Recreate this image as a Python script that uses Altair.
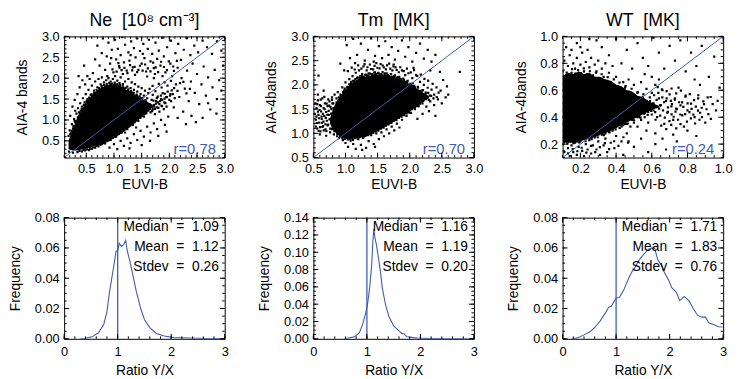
import altair as alt
import pandas as pd

BLUE = "#3f5cb0"
FONT = "Liberation Sans"
NB = "\u00a0"

# ---------------- panel titles / texts ----------------
titles = ["Ne" + NB * 2 + "[10\u2078" + NB + "cm\u207b\u00b3]", "Tm" + NB * 2 + "[MK]", "WT" + NB * 2 + "[MK]"]
ytitles_top = ["AIA-4 bands", "AIA-4bands", "AIA-4bands"]
r_values = ["r=0.78", "r=0.70", "r=0.24"]
medians = ["1.09", "1.16", "1.71"]
means = ["1.12", "1.19", "1.83"]
stdevs = ["0.26", "0.20", "0.76"]

# ---------------- scatter data ----------------
# dense (solid black) part of each cloud: x, lower edge, upper edge
ne_core_x = [0.18, 0.22, 0.26, 0.30, 0.34, 0.38, 0.42, 0.46, 0.50, 0.54, 0.58, 0.62, 0.66, 0.70, 0.74, 0.78, 0.82,
             0.86, 0.90, 0.94, 0.98, 1.02, 1.06, 1.10, 1.14, 1.18, 1.22, 1.26, 1.30, 1.34, 1.38, 1.42, 1.46, 1.50,
             1.54, 1.58, 1.62, 1.66, 1.70]
ne_core_lo = [0.30, 0.28, 0.27, 0.27, 0.27, 0.28, 0.29, 0.30, 0.31, 0.33, 0.34, 0.36, 0.38, 0.40, 0.42, 0.45, 0.47,
              0.50, 0.53, 0.56, 0.59, 0.61, 0.65, 0.68, 0.71, 0.75, 0.79, 0.82, 0.86, 0.90, 0.94, 0.99, 1.03, 1.08,
              1.12, 1.16, 1.22, 1.27, 1.32]
ne_core_hi = [0.50, 0.66, 0.80, 0.92, 1.06, 1.16, 1.25, 1.36, 1.42, 1.52, 1.56, 1.62, 1.64, 1.71, 1.74, 1.80, 1.79,
              1.85, 1.82, 1.88, 1.84, 1.89, 1.83, 1.84, 1.78, 1.79, 1.72, 1.74, 1.66, 1.68, 1.60, 1.62, 1.54, 1.55,
              1.47, 1.48, 1.42, 1.40, 1.36]

ne_pts = [
    (0.62,2.12),(0.66,2.45),(0.70,2.78),(0.74,2.30),(0.78,2.60),(0.80,2.95),(0.84,2.20),(0.87,2.52),(0.90,2.85),(0.93,2.35),
    (0.96,2.68),(0.99,2.14),(1.02,2.92),(1.04,2.45),(1.07,2.70),(1.10,2.25),(1.12,2.55),(1.15,2.98),(1.18,2.38),(1.20,2.80),
    (1.23,2.18),(1.26,2.62),(1.28,2.42),(1.31,2.88),(1.34,2.26),(1.36,2.72),(1.39,2.50),(1.42,2.95),(1.44,2.20),(1.47,2.65),
    (1.50,2.35),(1.53,2.82),(1.55,2.48),(1.58,2.16),(1.61,2.70),(1.63,2.92),(1.66,2.40),(1.69,2.58),(1.72,2.24),(1.75,2.85),
    (1.78,2.46),(1.81,2.66),(1.84,2.30),(1.87,2.97),(1.90,2.52),(1.93,2.14),(1.96,2.74),(1.99,2.40),(2.03,2.90),(2.07,2.28),
    (2.11,2.60),(2.16,2.82),(2.21,2.44),(2.26,2.68),(2.32,2.96),(2.38,2.55),(2.45,2.78),(2.52,2.62),(2.60,2.90),(2.68,2.74),
    (2.77,2.58),(2.86,2.88),(2.94,2.66),(1.16,2.10),(1.38,2.08),(1.60,2.04),(0.88,2.05),(1.08,2.36),(1.30,2.55),(1.52,2.58),
    (1.74,2.10),(0.95,2.48),
    (2.02,1.62),(2.05,2.05),(2.08,1.30),(2.12,1.85),(2.15,2.25),(2.18,1.55),(2.22,2.00),(2.25,1.20),(2.28,1.75),(2.32,2.18),
    (2.35,1.45),(2.39,1.92),(2.42,2.35),(2.46,1.65),(2.50,2.10),(2.54,1.38),(2.58,1.85),(2.62,2.28),(2.66,1.58),(2.70,2.02),
    (2.74,1.25),(2.78,1.78),(2.82,2.20),(2.86,1.50),(2.90,1.95),(2.94,1.70),(2.97,2.30),(2.40,1.10),(2.60,1.05),(2.85,1.15),
    (2.15,1.05),(2.30,0.90),(2.48,0.95),(2.70,1.40),
    (0.92,0.34),(1.00,0.42),(1.06,0.30),(1.12,0.50),(1.18,0.38),(1.24,0.56),(1.30,0.45),(1.36,0.66),(1.42,0.52),(1.48,0.74),
    (1.54,0.60),(1.60,0.84),(1.66,0.70),(1.72,0.92),(1.78,0.78),(1.85,1.00),(1.92,0.88),(1.98,1.08),(1.28,0.32),(1.50,0.40),
    (1.65,0.50),(1.80,0.62),(1.95,0.72),(1.20,0.70),(1.40,0.82),
    (0.18,0.62),(0.20,0.75),(0.22,0.68),(0.24,0.90),(0.26,0.80),(0.28,1.02),(0.30,0.95),(0.32,1.15),(0.33,0.98),(0.35,1.28),
    (0.37,1.10),(0.39,1.40),(0.40,1.22),(0.42,1.32),(0.44,1.52),(0.45,1.25),(0.47,1.42),(0.49,1.62),(0.50,1.38),(0.52,1.50),
    (0.54,1.72),(0.56,1.45),(0.58,1.60),(0.60,1.82),(0.62,1.55),(0.64,1.70),(0.66,1.92),(0.68,1.65),(0.70,1.78),(0.72,1.98),
    (0.74,1.70),(0.76,1.85),(0.78,2.02),(0.80,1.74),(0.82,1.90),(0.84,1.78),(0.86,1.95),(0.88,1.80),(0.90,2.00),(0.92,1.82),
    (0.94,1.92),(0.96,1.78),(0.98,1.98),(1.00,1.84),(1.02,2.05),(1.04,1.80),(1.06,1.94),(1.08,1.76),(1.10,1.88),(1.12,2.02),
    (1.14,1.74),(1.16,1.86),(1.18,1.70),(1.20,1.92),(1.22,1.66),(1.24,1.80),(1.26,1.98),(1.28,1.62),(1.30,1.76),(1.32,1.90),
    (1.34,1.58),(1.36,1.72),(1.38,1.86),(1.40,1.54),(1.42,1.68),(1.44,1.80),(1.46,1.50),(1.48,1.62),(1.50,1.76),(1.52,1.45),
    (1.54,1.58),(1.56,1.70),(1.58,1.40),(1.60,1.52),(1.62,1.64),(1.65,1.36),(1.68,1.48),(1.70,1.60),(1.73,1.32),(1.76,1.45),
    (1.79,1.56),(1.82,1.38),(1.85,1.50),(1.88,1.64),(1.91,1.42),(1.94,1.55),(1.97,1.68),(2.00,1.48),
    (0.19,0.24),(0.26,0.22),(0.34,0.23),(0.42,0.25),(0.48,0.27),(0.55,0.28),(0.60,0.31),(0.66,0.34),(0.72,0.37),(0.78,0.42),
    (0.84,0.44),(0.88,0.50),(0.94,0.52),(0.98,0.58),(1.04,0.60),(1.08,0.66),(1.14,0.70),(1.18,0.76),(1.24,0.78),(1.28,0.86),
    (1.34,0.88),(1.38,0.96),(1.44,0.98),(1.48,1.06),(1.54,1.08),(1.58,1.16),(1.62,1.22),(1.66,1.18),(1.70,1.26),(1.74,1.14),
    (1.78,1.30),(1.82,1.20),(1.86,1.34),(1.90,1.26),(1.95,1.32),(1.56,1.26),(1.60,1.34),(1.64,1.28),
    (0.21,1.10),(0.25,1.32),(0.29,1.48),(0.34,1.62),(0.38,1.78),(0.43,1.95),(0.48,1.85),(0.36,2.05),(0.46,2.30),(0.30,1.22),
    (0.52,2.05),(0.56,1.98),
    (0.213,0.663),(0.237,0.741),(0.268,0.857),(0.291,0.973),(0.318,0.912),(0.347,1.061),(0.366,1.183),(0.389,1.147),
    (0.418,1.266),(0.436,1.198),(0.457,1.361),(0.483,1.297),(0.507,1.449),(0.528,1.392),(0.553,1.537),(0.571,1.503),
    (0.596,1.611),(0.617,1.556),(0.643,1.649),(0.659,1.593),(0.687,1.712),(0.708,1.668),(0.731,1.763),(0.753,1.721),
    (0.777,1.809),(0.796,1.748),(0.821,1.832),(0.847,1.774),(0.869,1.861),(0.893,1.803),(0.917,1.889),(0.941,1.817),
    (0.963,1.873),(0.987,1.809),(1.013,1.896),(1.037,1.829),(1.061,1.857),(1.084,1.781),(1.109,1.833),(1.133,1.757),
    (1.158,1.803),(1.181,1.721),(1.207,1.769),(1.232,1.683),(1.257,1.733),(1.283,1.647),(1.308,1.689),(1.334,1.603),
    (1.359,1.651),(1.384,1.561),(1.409,1.607),(1.437,1.517),(1.463,1.563),(1.488,1.471),(1.512,1.521),(1.541,1.427),
    (1.567,1.473),(1.593,1.383),
    (0.377,0.262),(0.453,0.281),(0.517,0.297),(0.569,0.322),(0.627,0.341),(0.681,0.377),(0.709,0.393),(0.752,0.411),
    (0.806,0.447),(0.833,0.469),(0.871,0.493),(0.912,0.517),(0.947,0.561),(0.979,0.572),(1.021,0.597),(1.053,0.642),
    (1.092,0.668),(1.127,0.693),(1.161,0.741),(1.197,0.772),(1.226,0.803),(1.263,0.831),(1.297,0.871),(1.331,0.903),
    (1.367,0.942),(1.403,0.991),(1.431,1.017),(1.472,1.047),(1.509,1.097),(1.547,1.139),(1.583,1.171),(1.617,1.243),
    (1.652,1.267),(1.687,1.311),(1.721,1.357),(1.756,1.389),(1.793,1.419),(1.833,1.451),(1.871,1.483),(1.913,1.513),
    (1.957,1.547),(2.012,1.583),(2.063,1.617),(1.689,1.213),(1.742,1.263),(1.803,1.287),(1.867,1.331),(1.928,1.401),
    (2.031,1.451),(2.097,1.521),(1.577,1.297),(1.641,1.349),(1.713,1.463),(1.773,1.523),(1.847,1.581),(1.919,1.627),
    (2.043,1.709),
    (0.973,2.213),(1.047,2.157),(1.093,2.287),(1.137,2.193),(1.189,2.247),(1.243,2.121),(1.291,2.313),(1.329,2.187),
    (1.373,2.271),(1.419,2.143),(1.469,2.297),(1.517,2.183),(1.563,2.327),(1.611,2.233),(1.659,2.163),(1.707,2.371),
    (1.753,2.257),(1.797,2.143),(1.851,2.393),(1.903,2.267),(1.957,2.191),(2.017,2.347),(2.083,2.173),(2.137,2.413),
    (1.643,1.743),(1.697,1.817),(1.749,1.691),(1.809,1.863),(1.861,1.777),(1.913,1.901),(1.967,1.823),(2.029,1.937),
    (2.087,1.761),(2.147,1.697),(2.193,1.881),(2.253,1.913),(2.309,1.637),(2.371,1.743),(1.721,2.003),(1.877,2.051),
]

tm_core_x = [0.76, 0.80, 0.84, 0.88, 0.92, 0.96, 1.00, 1.05, 1.10, 1.15, 1.20, 1.25, 1.30, 1.35, 1.40, 1.45, 1.50,
             1.55, 1.60, 1.65, 1.70, 1.75, 1.80, 1.85, 1.90, 1.95, 2.00, 2.05, 2.10, 2.15, 2.20, 2.25, 2.30]
tm_core_lo = [1.20, 1.08, 1.02, 0.97, 0.93, 0.90, 0.89, 0.88, 0.88, 0.90, 0.90, 0.92, 0.92, 0.96, 0.98, 1.02, 1.05,
              1.09, 1.12, 1.17, 1.19, 1.24, 1.28, 1.33, 1.37, 1.41, 1.44, 1.50, 1.54, 1.59, 1.64, 1.70, 1.72]
tm_core_hi = [1.30, 1.48, 1.60, 1.70, 1.77, 1.84, 1.90, 1.98, 2.04, 2.09, 2.12, 2.17, 2.16, 2.20, 2.19, 2.23, 2.21,
              2.23, 2.20, 2.22, 2.18, 2.19, 2.13, 2.14, 2.08, 2.07, 2.01, 2.00, 1.93, 1.90, 1.85, 1.81, 1.76]

tm_pts = [
    (0.54,1.28),(0.55,1.52),(0.56,1.10),(0.57,1.68),(0.58,1.38),(0.59,1.22),(0.60,1.58),(0.61,1.04),(0.62,1.45),(0.63,1.30),
    (0.64,1.72),(0.65,1.15),(0.66,1.52),(0.67,1.36),(0.68,1.62),(0.69,1.08),(0.70,1.44),(0.71,1.26),(0.72,1.56),(0.73,1.18),
    (0.74,1.38),(0.75,1.66),(0.76,1.02),(0.77,1.30),(0.78,1.50),(0.79,1.74),(0.80,1.10),(0.81,1.62),(0.82,0.98),(0.83,1.80),
    (0.84,1.35),(0.86,1.72),(0.87,0.94),(0.88,1.85),(0.89,1.48),(0.90,0.90),(0.57,1.80),(0.60,0.98),(0.66,1.88),(0.70,0.95),
    (0.52,1.40),(0.53,1.62),
    (0.92,1.80),(0.95,1.95),(0.98,1.88),(1.00,2.05),(1.03,1.96),(1.06,2.12),(1.08,2.02),(1.11,2.18),(1.13,2.08),(1.16,2.25),
    (1.18,2.14),(1.21,2.30),(1.23,2.18),(1.26,2.22),(1.28,2.38),(1.31,2.20),(1.33,2.30),(1.36,2.24),(1.38,2.42),(1.41,2.22),
    (1.43,2.32),(1.46,2.26),(1.48,2.45),(1.51,2.24),(1.53,2.34),(1.56,2.22),(1.58,2.40),(1.61,2.24),(1.63,2.32),(1.66,2.20),
    (1.68,2.44),(1.71,2.22),(1.73,2.30),(1.76,2.18),(1.78,2.36),(1.81,2.16),(1.83,2.26),(1.86,2.12),(1.88,2.30),(1.91,2.10),
    (1.93,2.20),(1.96,2.06),(1.98,2.24),(2.01,2.02),(2.04,2.14),(2.07,1.98),(2.10,2.20),(2.13,1.94),(2.16,2.06),(2.19,1.88),
    (2.22,2.00),(2.25,1.84),(2.28,1.94),(2.31,1.78),(2.34,1.90),(2.37,1.72),
    (0.58,2.19),(0.92,2.44),(1.02,2.82),(1.07,2.55),(1.12,2.95),(1.18,2.62),(1.24,2.85),(1.30,2.50),(1.35,2.72),(1.40,2.96),
    (1.46,2.60),(1.52,2.80),(1.57,2.55),(1.62,2.90),(1.67,2.62),(1.72,2.78),(1.77,2.52),(1.82,2.70),(1.88,2.92),(1.93,2.58),
    (1.98,2.78),(2.04,2.48),(2.10,2.66),(2.16,2.85),(2.22,2.54),(2.28,2.72),(2.34,2.48),(2.40,2.62),(2.47,2.27),(2.58,1.97),
    (2.45,1.84),(2.78,2.27),(2.60,1.80),(2.52,2.10),(1.15,2.45),(1.44,2.48),(1.75,2.42),(2.06,2.35),(2.32,2.30),(0.98,2.30),
    (1.95,1.36),(2.02,1.42),(2.08,1.50),(2.14,1.56),(2.20,1.62),(2.26,1.55),(2.32,1.66),(2.38,1.58),(2.44,1.70),(2.50,1.62),
    (2.56,1.74),(2.20,1.40),(2.30,1.46),(2.40,1.36),(1.88,1.28),(2.12,1.30),
    (0.96,0.86),(1.00,0.80),(1.04,0.72),(1.08,0.85),(1.12,0.78),(1.16,0.68),(1.20,0.88),(1.24,0.76),(1.28,0.92),(1.32,0.70),
    (1.36,0.84),(1.40,0.96),(1.44,0.78),(1.48,1.00),(1.52,0.88),(1.56,1.02),(1.60,0.94),(1.64,1.08),(1.68,1.00),(1.72,1.14),
    (1.76,1.06),(1.80,1.20),(1.84,1.12),(1.26,0.66),(1.46,0.72),(1.10,0.92),(1.22,0.96),(1.34,1.00),
    (0.813,1.521),(0.861,1.633),(0.897,1.741),(0.934,1.787),(0.961,1.853),(0.989,1.921),(1.027,1.947),(1.058,2.013),
    (1.089,2.061),(1.121,2.083),(1.153,2.121),(1.187,2.157),(1.219,2.139),(1.251,2.187),(1.283,2.171),(1.317,2.213),
    (1.349,2.197),(1.381,2.233),(1.413,2.207),(1.447,2.251),(1.479,2.223),(1.511,2.247),(1.543,2.219),(1.577,2.261),
    (1.609,2.213),(1.641,2.239),(1.673,2.187),(1.707,2.221),(1.739,2.163),(1.771,2.197),(1.803,2.139),(1.837,2.163),
    (1.869,2.101),(1.901,2.127),(1.933,2.063),(1.967,2.081),(2.013,2.017),(2.047,2.033),(2.083,1.947),(2.127,1.961),
    (2.163,1.873),(2.207,1.891),(2.247,1.817),(2.289,1.833),(2.333,1.771),(2.381,1.797),(2.421,1.749),
    (0.793,1.087),(0.827,1.043),(0.873,0.987),(0.913,0.933),(0.951,0.901),(0.993,0.887),(1.037,0.873),(1.073,0.891),
    (1.117,0.867),(1.153,0.903),(1.193,0.887),(1.231,0.921),(1.273,0.907),(1.311,0.947),(1.353,0.963),(1.391,0.989),
    (1.433,1.007),(1.471,1.041),(1.513,1.053),(1.553,1.097),(1.593,1.117),(1.633,1.161),(1.671,1.183),(1.713,1.213),
    (1.751,1.257),(1.793,1.271),(1.833,1.317),(1.873,1.343),(1.913,1.377),(1.953,1.411),(1.993,1.429),(2.037,1.497),
    (2.077,1.531),(2.121,1.563),(2.163,1.613),(2.211,1.667),(2.253,1.703),(2.297,1.689),
    (0.553,1.213),(0.571,1.447),(0.587,1.311),(0.603,1.127),(0.617,1.563),(0.633,1.217),(0.647,1.401),(0.661,1.063),
    (0.677,1.497),(0.693,1.317),(0.707,1.611),(0.721,1.163),(0.737,1.463),(0.751,1.287),(0.767,1.543),(0.783,1.213),
    (0.797,1.617),(0.537,1.137),(0.561,1.603),(0.581,1.053),(0.613,1.697),(0.641,1.131),(0.671,1.753),(0.703,1.047),
    (0.733,1.701),(0.763,1.097),(0.791,1.689),(0.547,1.343),(0.597,1.481),(0.627,1.343),(0.657,1.241),(0.687,1.187),
    (0.717,1.383),(0.747,1.573),(0.777,1.407),
    (1.037,2.283),(1.097,2.357),(1.143,2.317),(1.197,2.403),(1.247,2.337),(1.297,2.427),(1.343,2.363),(1.397,2.327),
    (1.453,2.391),(1.497,2.353),(1.547,2.427),(1.597,2.361),(1.647,2.403),(1.697,2.337),(1.747,2.383),(1.797,2.307),
    (1.853,2.363),(1.907,2.283),(1.957,2.337),(2.017,2.257),(2.067,2.303),(2.117,2.183),(2.173,2.213),(2.229,2.123),
    (2.287,2.087),(2.357,2.021),(2.417,1.947),(2.481,1.883),
]

wt_core_x = [0.10, 0.13, 0.16, 0.19, 0.22, 0.25, 0.28, 0.31, 0.34, 0.37, 0.40, 0.43, 0.46, 0.49, 0.52, 0.55, 0.58,
             0.61, 0.64]
wt_core_lo = [0.22, 0.21, 0.21, 0.22, 0.23, 0.24, 0.25, 0.27, 0.28, 0.30, 0.32, 0.34, 0.36, 0.38, 0.40, 0.42, 0.44,
              0.46, 0.47]
wt_core_hi = [0.70, 0.73, 0.72, 0.74, 0.72, 0.73, 0.70, 0.70, 0.68, 0.67, 0.64, 0.63, 0.60, 0.59, 0.56, 0.55, 0.52,
              0.50, 0.485]

wt_pts = [
    (0.10,0.74),(0.11,0.82),(0.12,0.71),(0.13,0.78),(0.14,0.86),(0.15,0.73),(0.16,0.80),(0.17,0.76),(0.18,0.84),(0.19,0.72),
    (0.20,0.79),(0.21,0.88),(0.22,0.74),(0.23,0.81),(0.24,0.72),(0.25,0.77),(0.26,0.84),(0.27,0.71),(0.28,0.79),(0.29,0.74),
    (0.30,0.82),(0.31,0.69),(0.32,0.76),(0.33,0.70),(0.34,0.80),(0.35,0.67),(0.36,0.73),(0.37,0.66),(0.38,0.78),(0.39,0.64),
    (0.40,0.70),(0.12,0.92),(0.18,0.95),(0.24,0.90),(0.29,0.97),(0.15,0.90),
    (0.10,0.20),(0.11,0.14),(0.12,0.22),(0.13,0.17),(0.14,0.11),(0.15,0.19),(0.16,0.14),(0.17,0.21),(0.18,0.12),(0.19,0.18),
    (0.20,0.22),(0.21,0.15),(0.22,0.11),(0.23,0.20),(0.24,0.16),(0.25,0.23),(0.26,0.13),(0.27,0.19),(0.28,0.25),(0.29,0.16),
    (0.30,0.22),(0.31,0.12),(0.32,0.27),(0.33,0.19),(0.34,0.24),(0.35,0.14),(0.36,0.29),(0.37,0.21),(0.38,0.31),(0.39,0.17),
    (0.40,0.26),(0.42,0.32),(0.43,0.22),(0.45,0.35),(0.46,0.28),(0.48,0.33),
    (0.45,0.62),(0.46,0.52),(0.47,0.68),(0.48,0.58),(0.49,0.38),(0.50,0.64),(0.51,0.47),(0.52,0.58),(0.53,0.40),(0.54,0.66),
    (0.55,0.55),(0.56,0.43),(0.57,0.61),(0.58,0.36),(0.59,0.52),(0.60,0.58),(0.61,0.45),(0.62,0.64),(0.63,0.40),(0.64,0.54),
    (0.65,0.49),(0.66,0.60),(0.67,0.35),(0.68,0.52),(0.69,0.44),(0.70,0.57),(0.71,0.48),(0.72,0.38),(0.73,0.54),(0.74,0.46),
    (0.75,0.62),(0.76,0.42),(0.77,0.51),(0.78,0.33),(0.79,0.56),(0.80,0.45),(0.82,0.50),(0.84,0.40),(0.86,0.54),(0.88,0.47),
    (0.90,0.36),(0.52,0.33),(0.57,0.30),(0.62,0.28),(0.66,0.24),(0.72,0.27),(0.60,0.70),(0.56,0.72),(0.64,0.68),
    (0.32,0.92),(0.36,0.86),(0.40,0.98),(0.43,0.80),(0.46,0.90),(0.49,0.76),(0.52,0.95),(0.55,0.84),(0.58,0.78),(0.61,0.99),
    (0.64,0.88),(0.67,0.76),(0.70,0.93),(0.73,0.82),(0.76,0.97),(0.79,0.74),(0.82,0.88),(0.85,0.78),(0.88,0.93),(0.92,0.70),
    (0.95,0.85),(0.98,0.62),(0.93,0.55),(0.96,0.45),(0.87,0.64),(0.84,0.68),(0.25,0.98),(0.20,0.92),
    (0.44,0.12),(0.50,0.18),(0.54,0.24),(0.58,0.14),(0.62,0.20),(0.68,0.16),(0.74,0.22),(0.80,0.30),(0.85,0.26),(0.47,0.22),
    (0.41,0.63),(0.43,0.60),(0.44,0.66),(0.47,0.59),(0.49,0.56),(0.51,0.55),(0.53,0.52),(0.55,0.50),(0.57,0.48),(0.59,0.46),
    (0.61,0.50),(0.60,0.42),(0.58,0.44),(0.56,0.40),(0.54,0.38),(0.52,0.40),(0.50,0.36),(0.48,0.39),(0.46,0.35),(0.44,0.34),
    (0.42,0.35),(0.40,0.33),(0.38,0.30),(0.36,0.31),(0.34,0.28),(0.32,0.29),(0.30,0.27),(0.28,0.27),(0.26,0.25),(0.24,0.25),
    (0.22,0.24),(0.20,0.25),(0.18,0.22),(0.16,0.23),(0.14,0.22),(0.12,0.24),(0.11,0.25),
    (0.107,0.703),(0.123,0.731),(0.139,0.717),(0.153,0.757),(0.171,0.723),(0.187,0.749),(0.203,0.727),(0.219,0.763),
    (0.237,0.713),(0.253,0.741),(0.271,0.703),(0.287,0.731),(0.303,0.687),(0.319,0.719),(0.337,0.671),(0.353,0.697),
    (0.369,0.651),(0.387,0.681),(0.403,0.627),(0.419,0.657),(0.437,0.603),(0.453,0.631),(0.471,0.583),(0.487,0.611),
    (0.503,0.561),(0.521,0.587),(0.537,0.541),(0.553,0.569),(0.571,0.521),(0.589,0.547),(0.607,0.503),(0.627,0.529),
    (0.647,0.487),(0.669,0.511),(0.691,0.473),(0.713,0.497),(0.737,0.463),(0.761,0.487),
    (0.109,0.217),(0.127,0.203),(0.143,0.227),(0.161,0.207),(0.177,0.231),(0.193,0.213),(0.211,0.237),(0.229,0.221),
    (0.247,0.249),(0.263,0.237),(0.281,0.263),(0.297,0.251),(0.313,0.283),(0.331,0.267),(0.347,0.301),(0.363,0.287),
    (0.381,0.323),(0.397,0.309),(0.413,0.343),(0.431,0.331),(0.449,0.367),(0.467,0.353),(0.483,0.389),(0.501,0.377),
    (0.519,0.409),(0.537,0.397),(0.557,0.427),(0.577,0.417),(0.597,0.447),(0.619,0.437),(0.641,0.463),(0.663,0.451),
    (0.687,0.433),(0.711,0.421),(0.733,0.441),
    (0.613,0.563),(0.637,0.581),(0.659,0.547),(0.683,0.539),(0.707,0.521),(0.729,0.531),(0.753,0.511),(0.777,0.477),
    (0.801,0.503),(0.823,0.461),(0.847,0.479),(0.871,0.433),(0.893,0.497),(0.917,0.423),(0.621,0.381),(0.647,0.411),
    (0.673,0.397),(0.699,0.371),(0.723,0.403),(0.747,0.381),(0.771,0.413),(0.797,0.367),(0.819,0.391),(0.843,0.353),
    (0.867,0.381),
    (0.131,0.131),(0.157,0.163),(0.183,0.147),(0.207,0.173),(0.233,0.137),(0.259,0.187),(0.283,0.141),(0.309,0.177),
    (0.337,0.207),(0.361,0.163),(0.389,0.221),(0.413,0.187),(0.441,0.251),(0.467,0.211),
    (0.633,0.623),(0.657,0.607),(0.683,0.593),(0.711,0.613),(0.737,0.577),(0.763,0.597),(0.789,0.553),(0.813,0.571),
    (0.837,0.527),(0.861,0.563),(0.889,0.517),(0.913,0.547),(0.941,0.497),(0.969,0.521),(0.653,0.337),(0.681,0.311),
    (0.709,0.343),(0.737,0.317),(0.761,0.349),(0.787,0.423),(0.811,0.437),(0.833,0.419),(0.859,0.449),(0.881,0.401),
    (0.907,0.459),(0.931,0.387),
]

# ---------------- histogram data ----------------
ne_hx = [0.30, 0.40, 0.52, 0.64, 0.74, 0.80, 0.84, 0.89, 0.94, 0.97, 1.00, 1.03, 1.07, 1.11, 1.15, 1.18, 1.23, 1.29,
         1.35, 1.43, 1.50, 1.60, 1.72, 1.87, 2.05, 2.35, 2.65, 3.00]
ne_hy = [0.0, 0.0003, 0.0013, 0.004, 0.0095, 0.018, 0.029, 0.040, 0.051, 0.058, 0.058, 0.063, 0.061, 0.062, 0.065, 0.058,
         0.051, 0.041, 0.031, 0.020, 0.0128, 0.0074, 0.0035, 0.0018, 0.0008, 0.0005, 0.0002, 0.0001]

tm_hx = [0.58, 0.77, 0.86, 0.92, 0.97, 1.01, 1.05, 1.09, 1.11, 1.13, 1.15, 1.18, 1.21, 1.25, 1.29, 1.35, 1.41, 1.50,
         1.60, 1.66, 1.69, 1.75, 1.93, 2.24, 3.00]
tm_hy = [0.0, 0.0023, 0.0072, 0.0167, 0.028, 0.039, 0.058, 0.085, 0.111, 0.127, 0.117, 0.108, 0.096, 0.079, 0.058, 0.039,
         0.026, 0.0148, 0.0091, 0.0060, 0.0058, 0.0023, 0.0008, 0.0003, 0.0]

wt_hx = [0.18, 0.28, 0.40, 0.52, 0.61, 0.70, 0.80, 0.86, 0.91, 0.96, 1.00, 1.06, 1.14, 1.21, 1.29, 1.35, 1.43, 1.52,
         1.60, 1.66, 1.72, 1.78, 1.84, 1.90, 1.98, 2.04, 2.12, 2.19, 2.27, 2.36, 2.44, 2.52, 2.60, 2.67, 2.73, 2.82,
         2.91, 2.99]
wt_hy = [0.0, 0.0006, 0.0026, 0.0048, 0.0078, 0.0117, 0.0171, 0.0208, 0.0215, 0.0247, 0.027, 0.0273, 0.032, 0.038,
         0.044, 0.047, 0.052, 0.056, 0.059, 0.060, 0.0598, 0.052, 0.049, 0.044, 0.0388, 0.0338, 0.031, 0.0252, 0.028,
         0.0252, 0.020, 0.0156, 0.0143, 0.0143, 0.0106, 0.0095, 0.0080, 0.0078]

# ---------------- axis ticks ----------------
sc_major = [[0.5, 1.0, 1.5, 2.0, 2.5, 3.0], [0.5, 1.0, 1.5, 2.0, 2.5, 3.0], [0.2, 0.4, 0.6, 0.8, 1.0]]
sc_domain = [[0.1, 3.0], [0.5, 3.0], [0.1, 1.0]]
sc_minor_step = [0.1, 0.1, 0.05]
h_xmajor = [0, 1, 2, 3]
h_ymajor = [[0.0, 0.02, 0.04, 0.06, 0.08], [0.0, 0.02, 0.04, 0.06, 0.08, 0.10, 0.12, 0.14], [0.0, 0.02, 0.04, 0.06, 0.08]]
h_ymax = [0.08, 0.14, 0.08]

W, H = 163, 123


def minor_ticks(lo, hi, step):
    n = int(round((hi - lo) / step))
    return [round(lo + i * step, 4) for i in range(n + 1)]


def tick_layers(xenc, yenc, xmaj, xmin, ymaj, ymin):
    layers = []
    for vals, L in ((xmaj, 5), (xmin, 2.5)):
        d = pd.DataFrame({"x": vals})
        b = alt.Chart(d).mark_rule(color="black", strokeWidth=1)
        layers.append(b.encode(x=xenc, y=alt.value(H), y2=alt.value(H - L)))
        layers.append(b.encode(x=xenc, y=alt.value(0), y2=alt.value(L)))
    for vals, L in ((ymaj, 5), (ymin, 2.5)):
        d = pd.DataFrame({"y": vals})
        b = alt.Chart(d).mark_rule(color="black", strokeWidth=1)
        layers.append(b.encode(y=yenc, x=alt.value(0), x2=alt.value(L)))
        layers.append(b.encode(y=yenc, x=alt.value(W), x2=alt.value(W - L)))
    return layers


def scatter_panel(i, pts, cx, clo, chi):
    dom = sc_domain[i]
    scale = alt.Scale(domain=dom, nice=False, zero=False)
    xenc = alt.X("x:Q", scale=scale, axis=alt.Axis(title="EUVI-B", values=sc_major[i], format=".1f"))
    yenc = alt.Y("y:Q", scale=scale, axis=alt.Axis(title=ytitles_top[i], values=sc_major[i], format=".1f"))
    core = alt.Chart(pd.DataFrame({"x": cx, "y": clo, "y2": chi})).mark_area(
        color="black", opacity=1, clip=True, interpolate="linear"
    ).encode(x=xenc, y=yenc, y2="y2:Q")
    dots = alt.Chart(pd.DataFrame(pts, columns=["x", "y"])).mark_square(
        size=5, color="black", opacity=1, clip=True
    ).encode(x=xenc, y=yenc)
    diag = alt.Chart(pd.DataFrame({"x": dom, "y": dom})).mark_line(color=BLUE, strokeWidth=1, clip=True).encode(
        x=xenc, y=yenc
    )
    rt = alt.Chart(pd.DataFrame({"t": [r_values[i]]})).mark_text(
        align="right", baseline="middle", font=FONT, fontSize=15, color=BLUE
    ).encode(text="t:N", x=alt.value(154), y=alt.value(114))
    mn = minor_ticks(dom[0], dom[1], sc_minor_step[i])
    layers = [core, dots, diag, rt] + tick_layers(xenc, yenc, sc_major[i], mn, sc_major[i], mn)
    return alt.layer(*layers).properties(
        width=W, height=H,
        title=alt.TitleParams(titles[i], font=FONT, fontSize=18, fontWeight="normal", color="black", offset=1),
    )


def hist_panel(i, hx, hy):
    xs = alt.Scale(domain=[0, 3], nice=False, zero=False)
    ys = alt.Scale(domain=[0, h_ymax[i]], nice=False, zero=False)
    xenc = alt.X("x:Q", scale=xs, axis=alt.Axis(title="Ratio Y/X", values=h_xmajor, format="d",
                                                labelPadding=7, titlePadding=5))
    yenc = alt.Y("y:Q", scale=ys, axis=alt.Axis(title="Frequency", values=h_ymajor[i], format=".2f"))
    line = alt.Chart(pd.DataFrame({"x": hx, "y": hy})).mark_line(color=BLUE, strokeWidth=1.1, clip=True).encode(
        x=xenc, y=yenc
    )
    vline = alt.Chart(pd.DataFrame({"x": [1.0]})).mark_rule(color=BLUE, strokeWidth=1.3).encode(x=xenc)
    texts = []
    for j, (lab, val) in enumerate((("Median", medians[i]), ("Mean", means[i]), ("Stdev", stdevs[i]))):
        s = lab + NB * 2 + "=" + NB * 2 + val
        texts.append(
            alt.Chart(pd.DataFrame({"t": [s]})).mark_text(
                align="right", baseline="middle", font=FONT, fontSize=14, color="black"
            ).encode(text="t:N", x=alt.value(157), y=alt.value(10 + 20 * j))
        )
    xmin = minor_ticks(0, 3, 0.2)
    ymin = minor_ticks(0, h_ymax[i], 0.005)
    layers = [line, vline] + texts + tick_layers(xenc, yenc, h_xmajor, xmin, h_ymajor[i], ymin)
    return alt.layer(*layers).properties(width=W, height=H)


top = alt.hconcat(
    scatter_panel(0, ne_pts, ne_core_x, ne_core_lo, ne_core_hi),
    scatter_panel(1, tm_pts, tm_core_x, tm_core_lo, tm_core_hi),
    scatter_panel(2, wt_pts, wt_core_x, wt_core_lo, wt_core_hi),
    spacing=90, bounds="flush",
)
bottom = alt.hconcat(
    hist_panel(0, ne_hx, ne_hy),
    hist_panel(1, tm_hx, tm_hy),
    hist_panel(2, wt_hx, wt_hy),
    spacing=90, bounds="flush",
)

chart = alt.vconcat(top, bottom, spacing=184, bounds="flush").properties(
    padding={"left": 0, "top": 0, "right": 0, "bottom": 0}
).configure_view(stroke="black", strokeWidth=1).configure_axis(
    domain=False, ticks=False, tickSize=0, grid=False,
    labelFont=FONT, labelFontSize=13, labelColor="black", labelPadding=5,
    labelFlush=False, labelOverlap=False,
    titleFont=FONT, titleFontSize=14, titleFontWeight="normal", titleColor="black", titlePadding=12,
).configure_axisX(labelPadding=5, titlePadding=2)

chart.save("out.html", embed_options={"renderer": "svg", "actions": False})
